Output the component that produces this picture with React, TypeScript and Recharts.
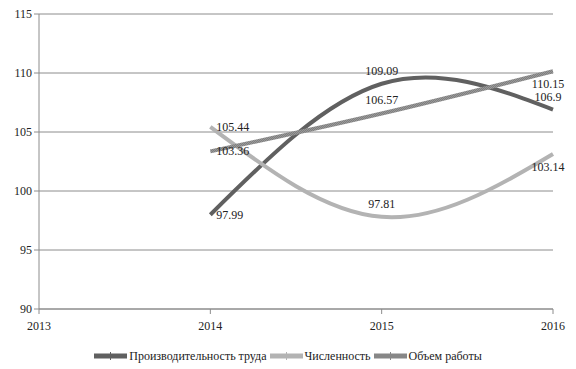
import { LineChart, Line, XAxis, YAxis, CartesianGrid, Legend, LabelList } from 'recharts'

document.body.style.margin = '0'

const years = [2014, 2015, 2016]
const productivity = [97.99, 109.09, 106.9]
const headcount = [105.44, 97.81, 103.14]
const workVolume = [103.36, 106.57, 110.15]
const xTicks = [2013, 2014, 2015, 2016]
const yTicks = [90, 95, 100, 105, 110, 115]

const data = years.map((year, i) => ({
  year,
  productivity: productivity[i],
  headcount: headcount[i],
  workVolume: workVolume[i],
}))

const series = [
  { key: 'productivity', name: 'Производительность труда', color: '#606060', labels: ['right', 'top', 'top'] },
  { key: 'headcount', name: 'Численность', color: '#b3b3b3', labels: ['right', 'top', 'bottom'] },
  { key: 'workVolume', name: 'Объем работы', color: 'url(#volPattern)', swatch: '#878787', labels: ['right', 'top', 'bottom'] },
]

const font = 'Liberation Serif'

function makeLabel(positions: string[]) {
  return function PointLabel(props: any) {
    const { x, y, value, index } = props
    const pos = positions[index]
    let tx = x
    let ty = y
    let anchor: 'start' | 'middle' = 'middle'
    if (pos === 'right') {
      tx = x + 6
      anchor = 'start'
    } else if (pos === 'top') {
      ty = y - 13
    } else {
      ty = y + 13
    }
    if (index === 2) tx = x - 5
    return (
      <text x={tx} y={ty} textAnchor={anchor} dominantBaseline="central" style={{ fontFamily: font, fontSize: 12 }} fill="#222">
        {value}
      </text>
    )
  }
}

function LegendContent() {
  return (
    <div style={{ display: 'flex', justifyContent: 'center', alignItems: 'center', fontFamily: font, fontSize: 12, color: '#222', height: 24 }}>
      {series.map((s, i) => (
        <div key={s.key} style={{ display: 'flex', alignItems: 'center', marginLeft: i ? 3 : 0 }}>
          <svg width={33} height={8} style={{ marginRight: 2 }}>
            <rect x={0} y={1.5} width={33} height={5} fill={s.swatch ?? s.color} />
            <line x1={16.5} y1={0} x2={16.5} y2={8} stroke={s.swatch ?? s.color} strokeWidth={1} />
          </svg>
          <span>{s.name}</span>
        </div>
      ))}
    </div>
  )
}

const tickStyle = { fontSize: 12, fontFamily: font, fill: '#222', style: { fontFamily: font } }

export default function App() {
  return (
    <div style={{ fontFamily: font }}>
      <LineChart width={576} height={369} data={data} margin={{ top: 14, right: 23, left: 0, bottom: 10 }}>
        <defs>
          <pattern id="volPattern" width={2} height={2} patternUnits="userSpaceOnUse">
            <rect width={2} height={2} fill="#7f7f7f" />
            <rect width={1} height={1} fill="#999999" />
            <rect x={1} y={1} width={1} height={1} fill="#999999" />
          </pattern>
        </defs>
        <CartesianGrid vertical={false} stroke="#8c8c8c" />
        <XAxis
          dataKey="year"
          type="number"
          domain={[2013, 2016]}
          ticks={xTicks}
          stroke="#8c8c8c"
          tickSize={5}
          height={26}
          tick={{ ...tickStyle, dy: 5 }}
        />
        <YAxis
          domain={[90, 115]}
          ticks={yTicks}
          stroke="#8c8c8c"
          tickSize={5}
          width={39}
          tick={tickStyle}
          tickMargin={2}
        />
        <Legend
          content={<LegendContent />}
          verticalAlign="bottom"
          height={24}
          wrapperStyle={{ left: 0, width: 576, bottom: 1 }}
        />
        {series.map((s) => (
          <Line
            key={s.key}
            dataKey={s.key}
            name={s.name}
            type="natural"
            stroke={s.color}
            strokeWidth={4}
            dot={false}
            isAnimationActive={false}
          >
            <LabelList dataKey={s.key} content={makeLabel(s.labels)} />
          </Line>
        ))}
      </LineChart>
    </div>
  )
}
